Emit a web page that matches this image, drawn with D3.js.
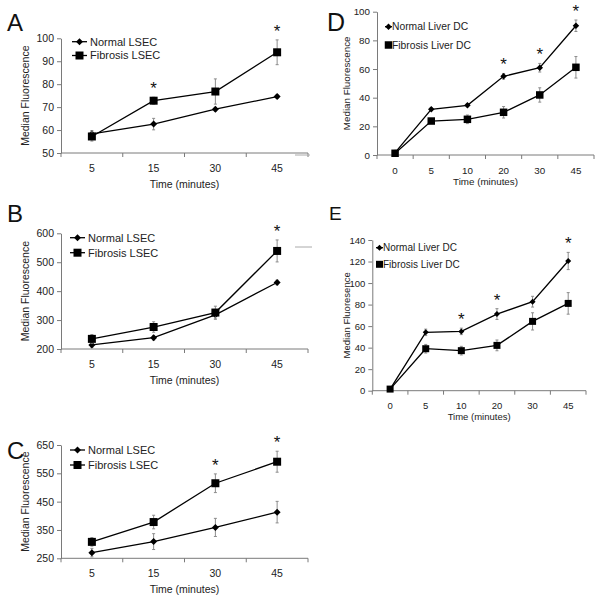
<!DOCTYPE html>
<html>
<head>
<meta charset="utf-8">
<script src="https://cdn.jsdelivr.net/npm/d3@7"></script>
<style>
  body { margin: 0; background: #fff; }
  svg { display: block; font-family: "Liberation Sans", Arial, sans-serif; }
</style>
</head>
<body>
<div id="chart"></div>
<script>
// ---- data ----
const timesLSEC = ["5", "15", "30", "45"];
const timesDC = ["0", "5", "10", "20", "30", "45"];

const aNormal = [58.3, 62.6, 69.1, 74.6];
const aNormalErr = [1.5, 2.5, 0.8, 0.8];
const aFibrosis = [57.2, 72.8, 76.8, 93.9];
const aFibrosisErr = [2, 1.5, 5.5, 5.4];
const aStars = ["15", "45"];
const aTicks = [50, 60, 70, 80, 90, 100];

const bNormal = [214, 239, 318, 430];
const bNormalErr = [8, 8, 15, 8];
const bFibrosis = [235, 276, 326, 539];
const bFibrosisErr = [15, 18, 22, 38];
const bStars = ["45"];
const bTicks = [200, 300, 400, 500, 600];

const cNormal = [270, 309, 359, 413];
const cNormalErr = [15, 28, 32, 38];
const cFibrosis = [308, 378, 515, 591];
const cFibrosisErr = [15, 24, 33, 37];
const cStars = ["30", "45"];
const cTicks = [250, 350, 450, 550, 650];

const dNormal = [1.6, 31.9, 34.7, 54.9, 60.9, 90.2];
const dNormalErr = [0.5, 1, 1, 2, 3, 4];
const dFibrosis = [1.2, 23.7, 24.9, 29.8, 41.9, 61.2];
const dFibrosisErr = [0.5, 1.5, 3, 4, 5, 7.5];
const dStars = ["20", "30", "45"];
const dTicks = [0, 20, 40, 60, 80, 100];

const eNormal = [1.5, 54.2, 55.1, 71.2, 82.7, 120.5];
const eNormalErr = [0.5, 3, 3, 5, 5, 8];
const eFibrosis = [1.5, 39, 37.2, 42.1, 64.4, 81.1];
const eFibrosisErr = [0.5, 4, 4, 5, 8, 10];
const eStars = ["10", "20", "45"];
const eTicks = [0, 20, 40, 60, 80, 100, 120, 140];

const width = 600;
const height = 598;
const axisColor = "#7a7a7a";
const textColor = "#222";

const svg = d3
  .select("#chart")
  .append("svg")
  .attr("width", width)
  .attr("height", height);

const panels = [
  {
    letter: "A", letterPos: [7, 31], letterSize: 24,
    x0: 61, x1: 308, yBottom: 153, yTop: 38.3,
    cats: timesLSEC, ticks: aTicks,
    series: [
      { name: "Normal LSEC", values: aNormal, errs: aNormalErr, shape: "diamond" },
      { name: "Fibrosis LSEC", values: aFibrosis, errs: aFibrosisErr, shape: "square" },
    ],
    stars: aStars, yTitle: "Median Fluorescence", yTitleX: 25,
    tickLabelY: 172, xTitleY: 188, font: 10.5,
    legend: { x: 72, lineLen: 15, y: [41.7, 55.5], gap: 3 },
    mSize: 7,
  },
  {
    letter: "B", letterPos: [7, 222], letterSize: 24,
    x0: 61, x1: 308, yBottom: 349, yTop: 233.3,
    cats: timesLSEC, ticks: bTicks,
    series: [
      { name: "Normal LSEC", values: bNormal, errs: bNormalErr, shape: "diamond" },
      { name: "Fibrosis LSEC", values: bFibrosis, errs: bFibrosisErr, shape: "square" },
    ],
    stars: bStars, yTitle: "Median Fluorescence", yTitleX: 25,
    tickLabelY: 368, xTitleY: 384, font: 10.5,
    legend: { x: 70, lineLen: 15, y: [237.7, 252.7], gap: 3 },
    mSize: 7,
  },
  {
    letter: "C", letterPos: [7, 459], letterSize: 24,
    x0: 61, x1: 308, yBottom: 558.3, yTop: 445,
    cats: timesLSEC, ticks: cTicks,
    series: [
      { name: "Normal LSEC", values: cNormal, errs: cNormalErr, shape: "diamond" },
      { name: "Fibrosis LSEC", values: cFibrosis, errs: cFibrosisErr, shape: "square" },
    ],
    stars: cStars, yTitle: "Median Fluorescence", yTitleX: 25,
    tickLabelY: 577, xTitleY: 593, font: 10.5,
    legend: { x: 70, lineLen: 15, y: [450, 465], gap: 3 },
    mSize: 7,
  },
  {
    letter: "D", letterPos: [327, 31], letterSize: 25,
    x0: 377, x1: 594, yBottom: 155, yTop: 11.7,
    cats: timesDC, ticks: dTicks,
    series: [
      { name: "Normal Liver DC", values: dNormal, errs: dNormalErr, shape: "diamond" },
      { name: "Fibrosis Liver DC", values: dFibrosis, errs: dFibrosisErr, shape: "square" },
    ],
    stars: dStars, yTitle: "Median Fluorescence", yTitleX: 347,
    tickLabelY: 173.5, xTitleY: 185, font: 9.8,
    legend: { x: 385, lineLen: 7, y: [26.7, 45], gap: 0 },
    mSize: 6.5,
  },
  {
    letter: "E", letterPos: [329, 220], letterSize: 19,
    x0: 372.3, x1: 586, yBottom: 390.7, yTop: 240,
    cats: timesDC, ticks: eTicks,
    series: [
      { name: "Normal Liver DC", values: eNormal, errs: eNormalErr, shape: "diamond" },
      { name: "Fibrosis Liver DC", values: eFibrosis, errs: eFibrosisErr, shape: "square" },
    ],
    stars: eStars, yTitle: "Median Fluoresence", yTitleX: 347,
    tickLabelY: 408.5, xTitleY: 419.5, font: 9.5,
    legend: { x: 376, lineLen: 7, y: [247.7, 264.3], gap: 0 },
    mSize: 6,
  },
];

const markerPath = (shape, size) => {
  const s = size / 2;
  if (shape === "diamond") {
    return `M0,${-s}L${s},0L0,${s}L${-s},0Z`;
  }
  return `M${-s},${-s}H${s}V${s}H${-s}Z`;
};

const drawPanel = (p) => {
  const g = svg.append("g");

  const x = d3.scaleBand().domain(p.cats).range([p.x0, p.x1]).padding(0);
  const cx = (c) => x(c) + x.bandwidth() / 2;
  const y = d3
    .scaleLinear()
    .domain([p.ticks[0], p.ticks[p.ticks.length - 1]])
    .range([p.yBottom, p.yTop]);

  // y axis
  const yAxis = g
    .append("g")
    .attr("transform", `translate(${p.x0},0)`)
    .call(d3.axisLeft(y).tickValues(p.ticks).tickSize(4).tickSizeOuter(0).tickPadding(3));
  yAxis.select(".domain").attr("stroke", axisColor);
  yAxis.selectAll(".tick line").attr("stroke", axisColor);
  yAxis
    .selectAll(".tick text")
    .attr("fill", textColor)
    .style("font-size", `${p.font}px`)
    .style("font-family", "Liberation Sans, Arial, sans-serif");

  // x axis: line + ticks on band boundaries, labels at centers
  g.append("line")
    .attr("x1", p.x0)
    .attr("x2", p.x1)
    .attr("y1", p.yBottom)
    .attr("y2", p.yBottom)
    .attr("stroke", axisColor);
  const bounds = p.cats.map((c) => x(c)).concat([p.x1]);
  g.selectAll(".xtick")
    .data(bounds)
    .join("line")
    .attr("x1", (d) => d)
    .attr("x2", (d) => d)
    .attr("y1", p.yBottom)
    .attr("y2", p.yBottom + 4)
    .attr("stroke", axisColor);
  g.selectAll(".xlabel")
    .data(p.cats)
    .join("text")
    .attr("x", (d) => cx(d))
    .attr("y", p.tickLabelY)
    .attr("text-anchor", "middle")
    .attr("fill", textColor)
    .style("font-size", `${p.font}px`)
    .text((d) => d);

  g.append("text")
    .attr("x", (p.x0 + p.x1) / 2)
    .attr("y", p.xTitleY)
    .attr("text-anchor", "middle")
    .attr("fill", textColor)
    .style("font-size", `${p.font}px`)
    .text("Time (minutes)");

  g.append("text")
    .attr("transform", `translate(${p.yTitleX},${(p.yBottom + p.yTop) / 2}) rotate(-90)`)
    .attr("text-anchor", "middle")
    .attr("dy", "0.35em")
    .attr("fill", textColor)
    .style("font-size", `${p.font}px`)
    .text(p.yTitle);

  g.append("text")
    .attr("x", p.letterPos[0])
    .attr("y", p.letterPos[1])
    .attr("fill", "#111")
    .style("font-size", `${p.letterSize}px`)
    .text(p.letter);

  const line = d3
    .line()
    .x((d) => cx(d.cat))
    .y((d) => y(d.v));

  p.series.forEach((s) => {
    const pts = p.cats.map((c, i) => ({ cat: c, v: s.values[i], e: s.errs[i] }));

    // error bars
    const eb = g.append("g").attr("stroke", "#8c8c8c").attr("stroke-width", 1);
    eb.selectAll(".err")
      .data(pts)
      .join("line")
      .attr("x1", (d) => cx(d.cat))
      .attr("x2", (d) => cx(d.cat))
      .attr("y1", (d) => y(d.v - d.e))
      .attr("y2", (d) => y(d.v + d.e));
    eb.selectAll(".capTop")
      .data(pts)
      .join("line")
      .attr("x1", (d) => cx(d.cat) - 1.5)
      .attr("x2", (d) => cx(d.cat) + 1.5)
      .attr("y1", (d) => y(d.v + d.e))
      .attr("y2", (d) => y(d.v + d.e));
    eb.selectAll(".capBot")
      .data(pts)
      .join("line")
      .attr("x1", (d) => cx(d.cat) - 1.5)
      .attr("x2", (d) => cx(d.cat) + 1.5)
      .attr("y1", (d) => y(d.v - d.e))
      .attr("y2", (d) => y(d.v - d.e));

    g.append("path")
      .datum(pts)
      .attr("d", line)
      .attr("fill", "none")
      .attr("stroke", "#000")
      .attr("stroke-width", 1.3);

    const size = s.shape === "square" ? p.mSize + 1 : p.mSize;
    g.selectAll(null)
      .data(pts)
      .join("path")
      .attr("transform", (d) => `translate(${cx(d.cat)},${y(d.v)})`)
      .attr("d", markerPath(s.shape, size))
      .attr("fill", "#000");
  });

  // significance stars above highest error bar
  g.selectAll(".star")
    .data(p.stars)
    .join("text")
    .attr("x", (d) => cx(d))
    .attr("y", (d) => {
      const i = p.cats.indexOf(d);
      const top = d3.max(p.series, (s) => s.values[i] + s.errs[i]);
      return y(top) - 3;
    })
    .attr("text-anchor", "middle")
    .attr("fill", "#111")
    .style("font-size", "17px")
    .text("*");

  // legend
  p.series.forEach((s, i) => {
    const ly = p.legend.y[i];
    const lg = g.append("g");
    lg.append("line")
      .attr("x1", p.legend.x)
      .attr("x2", p.legend.x + p.legend.lineLen)
      .attr("y1", ly)
      .attr("y2", ly)
      .attr("stroke", "#000")
      .attr("stroke-width", 1.3);
    const size = s.shape === "square" ? p.mSize + 1 : p.mSize;
    lg.append("path")
      .attr("transform", `translate(${p.legend.x + p.legend.lineLen / 2},${ly})`)
      .attr("d", markerPath(s.shape, size))
      .attr("fill", "#000");
    lg.append("text")
      .attr("x", p.legend.x + p.legend.lineLen + p.legend.gap)
      .attr("y", ly)
      .attr("dy", "0.35em")
      .attr("fill", textColor)
      .style("font-size", `${p.font + 0.5}px`)
      .text(s.name);
  });
};

panels.forEach(drawPanel);

// small leftover rule fragments visible beside D and E
svg.append("line").attr("x1", 295).attr("x2", 310).attr("y1", 155).attr("y2", 155).attr("stroke", "#aaa");
svg.append("line").attr("x1", 295).attr("x2", 312).attr("y1", 247).attr("y2", 247).attr("stroke", "#aaa");
</script>
</body>
</html>
